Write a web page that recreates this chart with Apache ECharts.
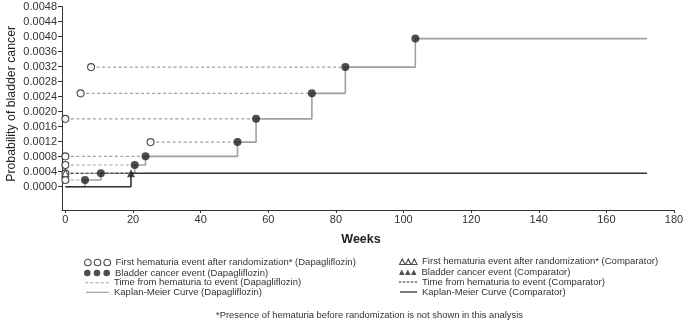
<!DOCTYPE html>
<html>
<head>
<meta charset="utf-8">
<script src="https://cdn.jsdelivr.net/npm/echarts@6/dist/echarts.min.js"></script>
<style>
  html, body { margin: 0; padding: 0; background: #fff; }
  #chart { width: 685px; height: 325px; }
</style>
</head>
<body>
<div id="chart"></div>
<script>
// values (weeks, probability of bladder cancer)
const dapaHematuriaWeeks = [0, 0, 0, 0, 25.2, 0, 4.5, 7.6, null];
const dapaEventWeeks = [5.8, 10.5, 20.5, 23.7, 50.9, 56.4, 72.9, 82.8, 103.5];
const dapaEventProb = [0.00018, 0.00036, 0.00058, 0.00081, 0.00119, 0.00181, 0.00249, 0.00319, 0.00395];
const dapaLastWeek = 172;

const compHematuriaWeeks = [0];
const compEventWeeks = [19.4];
const compEventProb = [0.00036];
const compLastWeek = 172;

const weekTicks = [0, 20, 40, 60, 80, 100, 120, 140, 160, 180];
const probTicks = [0, 0.0004, 0.0008, 0.0012, 0.0016, 0.0020, 0.0024, 0.0028, 0.0032, 0.0036, 0.0040, 0.0044, 0.0048];

const names = {
  dHem: "First hematuria event after randomization* (Dapagliflozin)",
  dEvt: "Bladder cancer event (Dapagliflozin)",
  dGap: "Time from hematuria to event (Dapagliflozin)",
  dKm: "Kaplan-Meier Curve (Dapagliflozin)",
  cHem: "First hematuria event after randomization* (Comparator)",
  cEvt: "Bladder cancer event (Comparator)",
  cGap: "Time from hematuria to event (Comparator)",
  cKm: "Kaplan-Meier Curve (Comparator)"
};

const GRAY = "#a0a0a0";
const DARK = "#222";
const FONT = "Liberation Sans, Arial, sans-serif";

function kmPoints(weeks, probs, last) {
  const pts = [[0, 0]];
  weeks.forEach((w, i) => pts.push([w, probs[i]]));
  pts.push([last, probs[probs.length - 1]]);
  return pts;
}

function gapSegments(starts, ends, probs) {
  const pts = [];
  starts.forEach((s, i) => {
    if (s == null) return;
    pts.push([s, probs[i]], [ends[i], probs[i]], ["-", "-"]);
  });
  return pts;
}

function markers(weeks, probs) {
  return weeks.map((w, i) => (w == null ? null : [w, probs[i]])).filter(Boolean);
}

// legend icons (three markers / dashes / line)
const ICON_CIRCLES = "path://M0,3.3a3.3,3.3 0 1,0 6.6,0a3.3,3.3 0 1,0 -6.6,0zM9.7,3.3a3.3,3.3 0 1,0 6.6,0a3.3,3.3 0 1,0 -6.6,0zM19.4,3.3a3.3,3.3 0 1,0 6.6,0a3.3,3.3 0 1,0 -6.6,0z";
const ICON_TRIS = "path://M2.75,0L5.5,5.5L0,5.5zM8.75,0L11.5,5.5L6,5.5zM14.75,0L17.5,5.5L12,5.5z";
const ICON_DASH_L = "path://M0,0h3v1h-3zM5.25,0h3v1h-3zM10.5,0h3v1h-3zM15.75,0h3v1h-3zM21,0h3v1h-3z";
const ICON_DASH_R = "path://M0,0h2.4v1h-2.4zM3.9,0h2.4v1h-2.4zM7.8,0h2.4v1h-2.4zM11.7,0h2.4v1h-2.4zM15.6,0h2.4v1h-2.4z";
const ICON_LINE_L = "path://M0,0h23v1.2h-23z";
const ICON_LINE_R = "path://M0,0h17v1.2h-17z";

function legendItem(name, icon, left, top, w, h, itemStyle) {
  return {
    left: left, top: top, padding: 0, selectedMode: false,
    itemWidth: w, itemHeight: h,
    textStyle: { fontSize: 9.5, color: "#333", fontFamily: FONT, lineHeight: 10 },
    data: [{ name: name, icon: icon, itemStyle: itemStyle }]
  };
}

const openStyle = { color: "#fff", borderColor: DARK, borderWidth: 1.1 };
const fillStyle = { color: DARK, borderWidth: 0 };
const grayFill = { color: GRAY, borderWidth: 0 };
const darkFill = { color: DARK, borderWidth: 0 };

const chart = echarts.init(document.getElementById("chart"));
chart.setOption({
  animation: false,
  textStyle: { fontFamily: FONT },
  title: {
    text: "*Presence of hematuria before randomization is not shown in this analysis",
    left: 216, top: 311, padding: 0,
    textStyle: { fontSize: 9.4, fontWeight: "normal", color: "#333", fontFamily: FONT }
  },
  legend: [
    legendItem(names.dHem, ICON_CIRCLES, 84, 257.5, 26, 6.6, openStyle),
    legendItem(names.dEvt, ICON_CIRCLES, 84, 268, 26, 6.6, fillStyle),
    legendItem(names.dGap, ICON_DASH_L, 85, 277.7, 24, 1, grayFill),
    legendItem(names.dKm, ICON_LINE_L, 86, 287.3, 23, 1.2, grayFill),
    legendItem(names.cHem, ICON_TRIS, 399, 256.7, 17.5, 5.5, openStyle),
    legendItem(names.cEvt, ICON_TRIS, 399, 267.3, 17.5, 5.5, fillStyle),
    legendItem(names.cGap, ICON_DASH_R, 399, 277, 18, 1, darkFill),
    legendItem(names.cKm, ICON_LINE_R, 400, 287, 17, 1.2, darkFill)
  ],
  grid: { left: 62, right: 11, top: 6.7, bottom: 115, containLabel: false, outerBoundsMode: "none" },
  xAxis: {
    type: "value", min: -1, max: 180,
    name: "Weeks", nameLocation: "middle", nameGap: 23, nameMoveOverlap: false,
    nameTextStyle: { fontSize: 12.5, fontWeight: "bold", color: "#222", padding: [0, 14, 0, 0] },
    axisLine: { onZero: false, lineStyle: { color: "#333", width: 1 } },
    axisTick: { customValues: weekTicks, length: 3, lineStyle: { color: "#333" } },
    axisLabel: { customValues: weekTicks, fontSize: 11, color: "#333", margin: 4 },
    splitLine: { show: false }
  },
  yAxis: {
    type: "value", min: -0.00062, max: 0.0048,
    name: "Probability of bladder cancer", nameLocation: "middle", nameGap: 44, nameMoveOverlap: false,
    nameTextStyle: { fontSize: 12.3, color: "#222", padding: [0, 0, 0, 9] },
    axisLine: { show: true, onZero: false, lineStyle: { color: "#333", width: 1 } },
    axisTick: { show: true, customValues: probTicks, length: 4, lineStyle: { color: "#333" } },
    axisLabel: { customValues: probTicks, fontSize: 11, color: "#333", margin: 5,
      formatter: (v) => v.toFixed(4) },
    splitLine: { show: false }
  },
  series: [
    {
      name: names.dGap, type: "line", symbol: "none", silent: true, z: 2,
      lineStyle: { color: GRAY, width: 1.2, type: [3, 2.5] },
      data: gapSegments(dapaHematuriaWeeks, dapaEventWeeks, dapaEventProb)
    },
    {
      name: names.dKm, type: "line", step: "end", symbol: "none", silent: true, z: 3,
      lineStyle: { color: GRAY, width: 1.6 },
      data: kmPoints(dapaEventWeeks, dapaEventProb, dapaLastWeek)
    },
    {
      name: names.cGap, type: "line", symbol: "none", silent: true, z: 4,
      lineStyle: { color: DARK, width: 1.2, type: [3, 2] },
      data: gapSegments(compHematuriaWeeks, compEventWeeks, compEventProb)
    },
    {
      name: names.cKm, type: "line", step: "end", symbol: "none", silent: true, z: 4,
      lineStyle: { color: "#333", width: 1.6 },
      data: kmPoints(compEventWeeks, compEventProb, compLastWeek)
    },
    {
      name: names.dHem, type: "scatter", symbol: "circle", symbolSize: 7, z: 5,
      itemStyle: openStyle,
      data: markers(dapaHematuriaWeeks, dapaEventProb)
    },
    {
      name: names.cHem, type: "scatter", symbol: "triangle", symbolSize: 7, z: 6,
      itemStyle: openStyle,
      data: markers(compHematuriaWeeks, compEventProb)
    },
    {
      name: names.dEvt, type: "scatter", symbol: "circle", symbolSize: 8, z: 7,
      itemStyle: fillStyle,
      data: markers(dapaEventWeeks, dapaEventProb)
    },
    {
      name: names.cEvt, type: "scatter", symbol: "triangle", symbolSize: 8, z: 7,
      itemStyle: fillStyle,
      data: markers(compEventWeeks, compEventProb)
    }
  ]
});
</script>
</body>
</html>
